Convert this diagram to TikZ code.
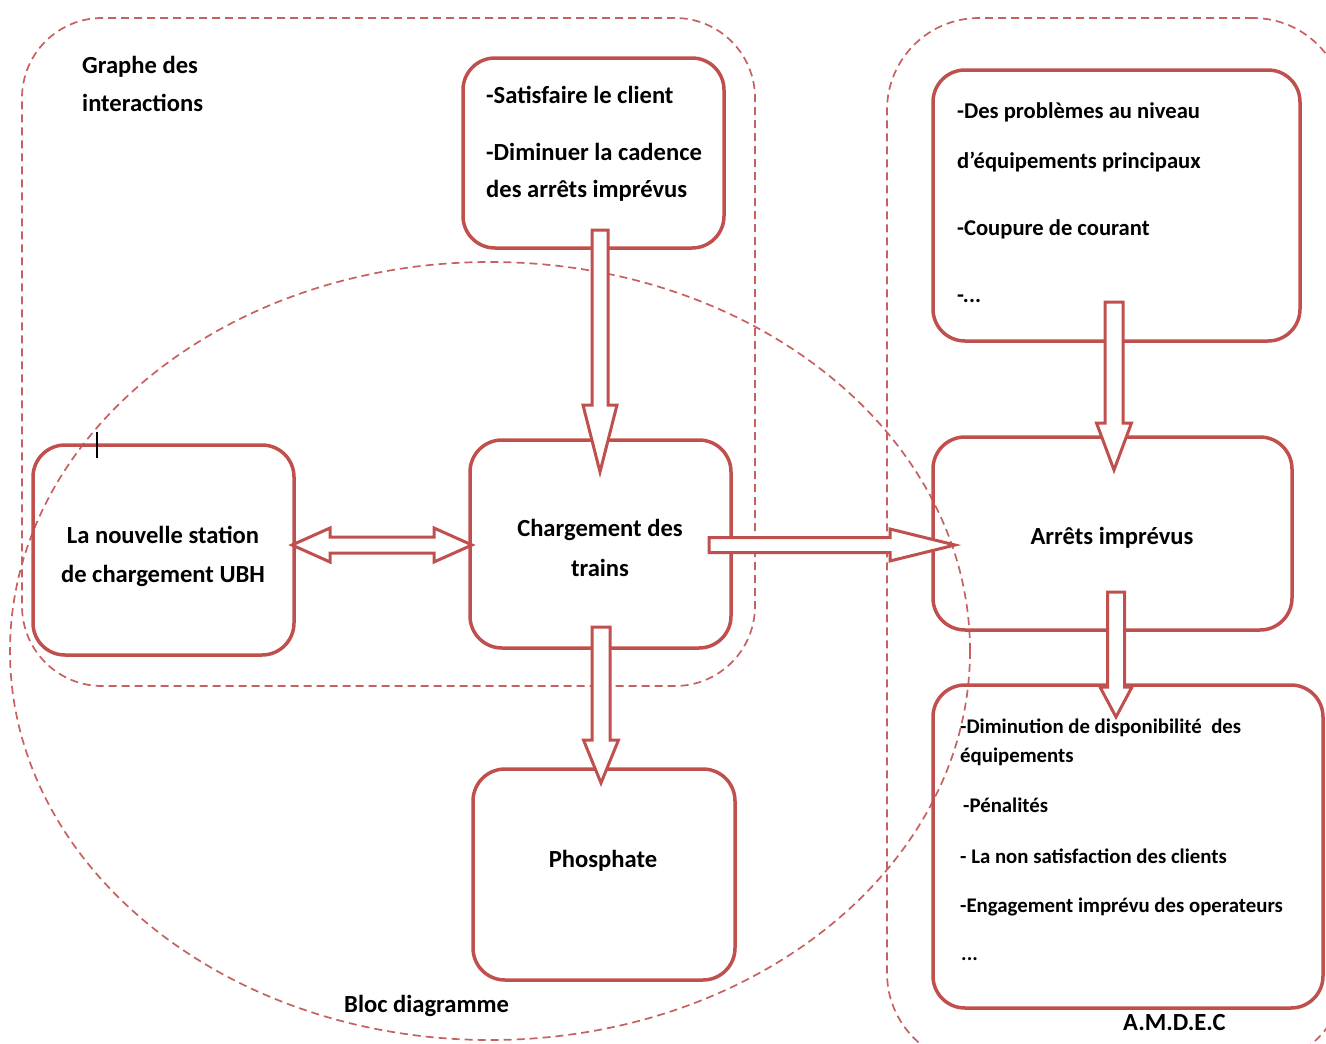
\documentclass[tikz,border=0pt]{standalone}
\usepackage{fontspec}
\setmainfont{Carlito}
\usetikzlibrary{calc,shapes.geometric}
\definecolor{boxred}{RGB}{192,80,77}

% hollow block arrows: #1 tail, #2 tip, #3 head length, #4 shaft half width, #5 head half width
\newcommand\BlkDown[5]{%
  \draw[blk] ($(#1)+(-#4,0)$) -- ($(#2)+(-#4,-#3)$) -- ($(#2)+(-#5,-#3)$) -- (#2)
    -- ($(#2)+(#5,-#3)$) -- ($(#2)+(#4,-#3)$) -- ($(#1)+(#4,0)$) -- cycle;}
\newcommand\BlkRight[5]{%
  \draw[blk] ($(#1)+(0,-#4)$) -- ($(#2)+(-#3,-#4)$) -- ($(#2)+(-#3,-#5)$) -- (#2)
    -- ($(#2)+(-#3,#5)$) -- ($(#2)+(-#3,#4)$) -- ($(#1)+(0,#4)$) -- cycle;}
\newcommand\BlkBoth[5]{%
  \draw[blk] (#1) -- ($(#1)+(#3,-#5)$) -- ($(#1)+(#3,-#4)$) -- ($(#2)+(-#3,-#4)$)
    -- ($(#2)+(-#3,-#5)$) -- (#2) -- ($(#2)+(-#3,#5)$) -- ($(#2)+(-#3,#4)$)
    -- ($(#1)+(#3,#4)$) -- ($(#1)+(#3,#5)$) -- cycle;}

\begin{document}
\begin{tikzpicture}[x=1pt,y=-1pt,
  box/.style={draw=boxred, line width=3.5pt, rounded corners=32pt, inner sep=0pt, outer sep=0pt},
  zone/.style={draw=boxred!90, line width=1.7pt, dash pattern=on 8pt off 5pt, inner sep=0pt, outer sep=0pt},
  blk/.style={draw=boxred, line width=3pt, fill=white, line join=miter},
  txt/.style={font=\bfseries\fontsize{24.6}{30}\selectfont, text=black, inner sep=0pt},
  txtm/.style={font=\bfseries\fontsize{22.6}{26}\selectfont, text=black, inner sep=0pt, anchor=base west},
  txts/.style={font=\bfseries\fontsize{20.8}{24}\selectfont, text=black, inner sep=0pt, anchor=base west}]
\useasboundingbox (0,0) rectangle (1326,1044);

% dashed zones
\node[zone, rounded corners=80pt, minimum width=733pt, minimum height=668pt] (graphe) at (388.5,352) {};
\node[zone, ellipse, minimum width=960pt, minimum height=778pt] (bloc) at (490,651) {};
\node[zone, rounded corners=92pt, minimum width=458pt, minimum height=1047pt] (amdec) at (1116,541.5) {};

% boxes
\node[box, minimum width=261pt, minimum height=190pt] (obj) at (593.5,153) {};
\node[box, minimum width=261pt, minimum height=208pt] (ch) at (600.5,544) {};
\node[box, minimum width=261pt, minimum height=210pt] (ubh) at (163.5,550) {};
\node[box, minimum width=262pt, minimum height=211pt] (pho) at (604,874.5) {};
\node[box, minimum width=367pt, minimum height=271pt] (pb) at (1116.5,205.5) {};
\node[box, minimum width=359pt, minimum height=193pt] (arr) at (1112.5,533.5) {};
\node[box, minimum width=390pt, minimum height=323pt] (cons) at (1128,846.5) {};

% arrow end points
\coordinate (t1) at ($(obj.south)+(6.5,-18)$);
\coordinate (h1) at ($(ch.north)+(-0.5,32)$);
\coordinate (t2) at ($(ch.south)+(0.5,-21)$);
\coordinate (h2) at ($(pho.north)+(-3,14)$);
\coordinate (t3) at ($(pb.south)+(-2.5,-39)$);
\coordinate (h3) at ($(arr.north)+(1.5,33)$);
\coordinate (t4) at ($(arr.south)+(3.5,-38)$);
\coordinate (h4) at ($(cons.north)+(-12,32)$);
\coordinate (t5) at ($(ch.east)+(-22,1)$);
\coordinate (h5) at ($(arr.west)+(22,11.5)$);
\coordinate (d1) at ($(ubh.east)+(-2,-5)$);
\coordinate (d2) at ($(ch.west)+(2,1)$);

% arrows
\BlkDown{t1}{h1}{67}{8}{17}
\BlkDown{t2}{h2}{43}{9}{17.5}
\BlkDown{t3}{h3}{47}{9}{17.5}
\BlkDown{t4}{h4}{30}{8.5}{16}
\BlkRight{t5}{h5}{65}{7.5}{16}
\BlkBoth{d1}{d2}{38}{8}{17}

% text cursor mark
\draw[black, line width=2.2pt] (97,432) -- (97,458);

% labels
\node[txt, anchor=base west] (lg1) at (82,73) {Graphe des};
\node[txt, anchor=base west] (lg2) at (82,111) {interactions};

\node[txt, anchor=base west] (o1) at (486,103) {-Satisfaire le client};
\node[txt, anchor=base west] (o2) at (486,160) {-Diminuer la cadence};
\node[txt, anchor=base west] (o3) at (486,197) {des arrêts imprévus};

\node[txt, anchor=base] (c1) at (600,536) {Chargement des};
\node[txt, anchor=base] (c2) at (600,576) {trains};

\node[txt, anchor=base] (u1) at (163,543) {La nouvelle station};
\node[txt, anchor=base] (u2) at (163,582) {de chargement UBH};

\node[txt, anchor=base] (p1) at (603,867) {Phosphate};
\node[txt, anchor=base] (a1) at (1112,544) {Arrêts imprévus};

\node[txt, anchor=base west] (lb) at (344,1012) {Bloc diagramme};
\node[txt, anchor=base west] (la) at (1123,1030) {A.M.D.E.C};

\node[txtm] (q1) at (957,118) {-Des problèmes au niveau};
\node[txtm] (q2) at (957,168) {d’équipements principaux};
\node[txtm] (q3) at (957,235) {-Coupure de courant};
\node[txtm] (q4) at (957,302) {-...};

\node[txts] (r1) at (960,733) {-Diminution de disponibilité\ \ des};
\node[txts] (r2) at (960,762) {équipements};
\node[txts] (r3) at (963,812) {-Pénalités};
\node[txts] (r4) at (960,863) {- La non satisfaction des clients};
\node[txts] (r5) at (960,912) {-Engagement imprévu des operateurs};
\node[txts] (r6) at (961,960) {...};
\end{tikzpicture}
\end{document}
